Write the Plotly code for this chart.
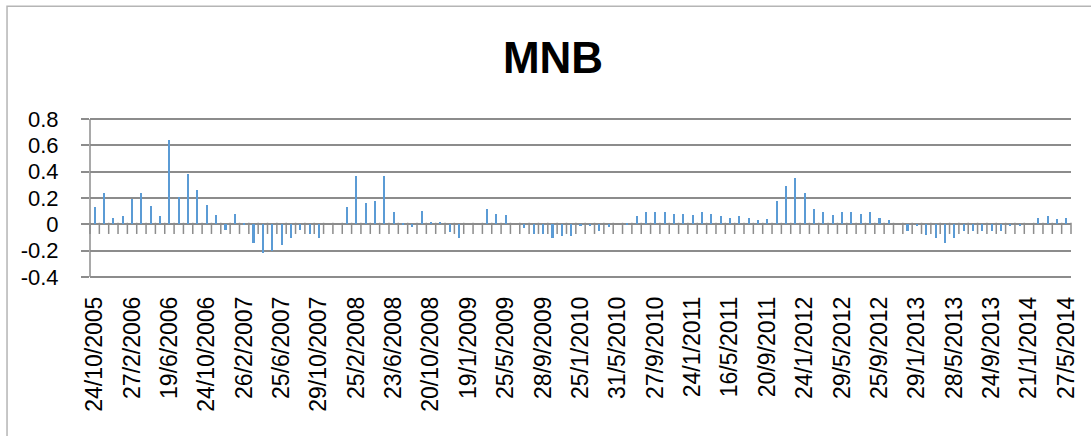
import plotly.graph_objects as go

# ---- data ----
values = [
    0.13, 0.24, 0.05, 0.06, 0.19, 0.24, 0.14, 0.06, 0.64, 0.21,
    0.38, 0.26, 0.15, 0.07, -0.04, 0.08, 0.005, -0.14, -0.22, -0.20,
    -0.16, -0.10, -0.04, -0.07, -0.10, 0.0, 0.0, 0.13, 0.37, 0.16,
    0.18, 0.37, 0.09, 0.008, -0.02, 0.10, 0.018, 0.018, -0.06, -0.10,
    0.0, 0.0, 0.12, 0.08, 0.07, 0.0, -0.03, -0.07, -0.07, -0.10,
    -0.09, -0.09, -0.01, -0.01, -0.05, -0.02, 0.0, 0.008, 0.06, 0.09,
    0.09, 0.09, 0.08, 0.08, 0.07, 0.09, 0.08, 0.06, 0.05, 0.06,
    0.05, 0.03, 0.04, 0.18, 0.29, 0.35, 0.24, 0.12, 0.09, 0.07,
    0.09, 0.09, 0.08, 0.09, 0.05, 0.03, 0.0, -0.05, -0.01, -0.08,
    -0.10, -0.14, -0.10, -0.05, -0.05, -0.05, -0.05, -0.05, -0.01, -0.01,
    0.0, 0.05, 0.06, 0.04, 0.05,
]

tick_labels = [
    "24/10/2005", "27/2/2006", "19/6/2006", "24/10/2006", "26/2/2007",
    "25/6/2007", "29/10/2007", "25/2/2008", "23/6/2008", "20/10/2008",
    "19/1/2009", "25/5/2009", "28/9/2009", "25/1/2010", "31/5/2010",
    "27/9/2010", "24/1/2011", "16/5/2011", "20/9/2011", "24/1/2012",
    "29/5/2012", "25/9/2012", "29/1/2013", "28/5/2013", "24/9/2013",
    "21/1/2014", "27/5/2014",
]
label_step = 4  # every 4th category is labelled

y_tick_vals = [0.8, 0.6, 0.4, 0.2, 0, -0.2, -0.4]
y_tick_text = ["0.8", "0.6", "0.4", "0.2", "0", "-0.2", "-0.4"]

title_text = "MNB"

# ---- derived ----
n = len(values)
x_idx = list(range(n))
label_pos = [i * label_step for i in range(len(tick_labels))]
boundaries = [i - 0.5 for i in range(n + 1)]

GRID = "#8C8C8C"
FONT = "Liberation Sans"

W, H = 1091, 436
pad_u = 0.015  # small range padding so the edge gridlines are drawn
y_min, y_max = -0.4 - pad_u, 0.8 + pad_u
px_per_u = 157.4 / 1.2
L, R = 90, 19.7
T = 119.3 - pad_u * px_per_u
B = 436 - 276.7 - pad_u * px_per_u
pw = W - L - R
ph = H - T - B
tick_px = 8
tick_units = tick_px * (y_max - y_min) / ph

fig = go.Figure()
fig.add_trace(go.Bar(
    x=x_idx, y=values, width=0.22,
    marker=dict(color="#5B9BD5", line=dict(width=0)),
    showlegend=False, hoverinfo="x+y",
))
# category-axis tick marks hanging below the zero line (between categories)
fig.add_trace(go.Scatter(
    x=boundaries, y=[-tick_units / 2] * len(boundaries), mode="markers",
    marker=dict(symbol="line-ns-open", size=tick_px, color=GRID,
                line=dict(color=GRID, width=1.5)),
    hoverinfo="skip", showlegend=False, cliponaxis=False,
))

fig.update_layout(
    width=W, height=H,
    margin=dict(l=L, r=R, t=T, b=B, pad=0),
    paper_bgcolor="white", plot_bgcolor="white",
    font=dict(family=FONT, color="#000000"),
    title=dict(
        text=title_text, x=553 / W, xref="container", xanchor="center",
        y=1 - 58 / H, yref="container", yanchor="middle",
        font=dict(family=FONT, size=44, color="#000000", weight="bold"),
    ),
    bargap=0,
    xaxis=dict(
        range=[-0.5, n - 0.5],
        tickmode="array", tickvals=label_pos, ticktext=tick_labels,
        tickangle=-90, tickfont=dict(size=23, family=FONT, color="#000000"),
        ticks="", ticklabelstandoff=12,
        showgrid=False, zeroline=False, showline=False,
    ),
    yaxis=dict(
        range=[y_min, y_max],
        tickmode="array", tickvals=y_tick_vals, ticktext=y_tick_text,
        tickfont=dict(size=22, family=FONT, color="#000000"),
        ticks="outside", ticklen=8, tickwidth=1.5, tickcolor=GRID,
        ticklabelstandoff=18,
        showgrid=True, gridcolor=GRID, gridwidth=1.5,
        zeroline=True, zerolinecolor=GRID, zerolinewidth=1.5,
        showline=False,
    ),
    shapes=[
        dict(
            type="rect", xref="paper", yref="paper",
            x0=(7 - L) / pw, x1=(W + 10 - L) / pw,
            y0=-(H + 10 - (H - B)) / ph, y1=((H - B) - 7) / ph,
            line=dict(color="#B5B5B5", width=1.5), fillcolor="rgba(0,0,0,0)",
            layer="above",
        ),
        # vertical value-axis line spanning the value range
        dict(
            type="line", xref="paper", yref="y",
            x0=0, x1=0, y0=y_tick_vals[-1], y1=y_tick_vals[0],
            line=dict(color=GRID, width=1.5), layer="above",
        ),
    ],
)

fig.write_html("out.html")
